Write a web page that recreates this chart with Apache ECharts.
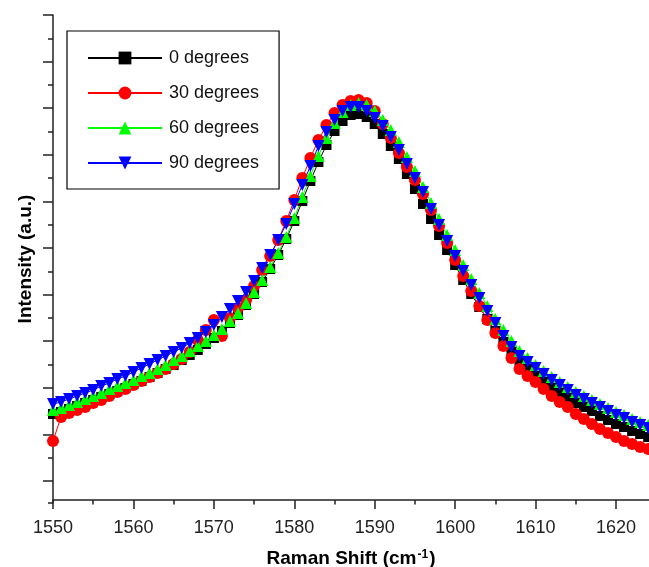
<!DOCTYPE html>
<html><head><meta charset="utf-8">
<script src="https://cdn.jsdelivr.net/npm/echarts@6/dist/echarts.min.js"></script>
<style>html,body{margin:0;padding:0;background:#fff}#c{width:649px;height:567px}</style>
</head><body><div id="c"></div>
<script>
const ramanShift = [1550,1551,1552,1553,1554,1555,1556,1557,1558,1559,1560,1561,1562,1563,1564,1565,1566,1567,1568,1569,1570,1571,1572,1573,1574,1575,1576,1577,1578,1579,1580,1581,1582,1583,1584,1585,1586,1587,1588,1589,1590,1591,1592,1593,1594,1595,1596,1597,1598,1599,1600,1601,1602,1603,1604,1605,1606,1607,1608,1609,1610,1611,1612,1613,1614,1615,1616,1617,1618,1619,1620,1621,1622,1623,1624];
const deg0 = [86,88,91,94,97,100,103,106,109,112,116,119,123,127,131,135,140,145,150,156,162,169,177,185,195,206,218,231,245,261,279,299,319,338,355,369,379,385,386,383,376,366,354,341,326,311,296,281,265,250,235,220,206,193,181,169,158,148,139,132,125,119,113,107,102,97,93,89,84,80,76,73,69,66,63];
const deg30 = [59,83,87,90,93,97,100,104,108,111,115,119,123,127,131,136,141,148,160,170,180,164,182,192,200,214,230,244,260,279,300,322,342,360,375,387,395,399,400,397,389,376,362,347,333,320,306,290,274,257,240,224,209,194,180,167,154,142,131,124,118,111,104,98,93,86,81,76,71,67,63,59,56,53,51];
const deg60 = [90,92,95,98,101,104,107,111,114,117,120,124,127,131,135,140,144,149,154,159,165,171,179,187,197,208,220,233,247,263,282,303,324,344,362,377,388,395,397,395,389,380,370,358,343,329,313,297,281,265,250,235,221,207,194,181,170,159,149,142,135,129,123,118,113,108,104,100,96,92,88,85,81,78,75];
const deg90 = [96,98,101,104,107,110,114,117,121,124,128,132,136,140,144,148,152,157,162,168,175,183,191,199,208,219,232,245,260,276,296,315,334,354,368,380,389,393,393,389,382,374,363,350,336,322,308,291,275,259,244,229,215,202,189,177,164,153,144,138,132,126,120,115,110,105,101,97,93,89,85,82,78,75,72];
const seriesNames = ['0 degrees','30 degrees','60 degrees','90 degrees'];
const xTickLabels = [1550,1560,1570,1580,1590,1600,1610,1620];
const xMinorTicks = [1555,1565,1575,1585,1595,1605,1615];
const yMajorTicks = [485,438.4,391.8,345.2,298.6,252,205.4,158.8,112.2,65.6,19];
const yMinorTicks = [461.7,415.1,368.5,321.9,275.3,228.7,182.1,135.5,88.9,42.3,-3];

const FONT = "'Liberation Sans', Arial, sans-serif";
const AX = '#222';
const chart = echarts.init(document.getElementById('c'), null, {renderer:'canvas'});

function mk(i, vals, color, symbol, size, rotate) {
  return {
    name: seriesNames[i], type: 'line',
    data: ramanShift.map((x, k) => [x, vals[k]]),
    symbol: symbol, symbolSize: size, symbolRotate: rotate || 0,
    showSymbol: true,
    itemStyle: {color: color},
    lineStyle: {color: color, width: 1},
    emphasis: {disabled: true},
    animation: false
  };
}

const xBase = {type:'value', min:1550, max:1624.1, position:'bottom', gridIndex:0, splitLine:{show:false}};
const yBase = {type:'value', min:-3, max:485, position:'left', gridIndex:0, splitLine:{show:false}};

chart.setOption({
  backgroundColor: '#fff',
  animation: false,
  grid: {left:53, right:0, top:15, bottom:64, containLabel:false, outerBoundsMode:'none'},
  legend: {
    orient:'vertical', left:67, top:31,
    padding:[18,20,17,20],
    itemWidth:74, itemHeight:16, itemGap:17,
    borderColor:'#000', borderWidth:1.2,
    data: seriesNames,
    textStyle:{fontSize:18, color:'#111', fontFamily:FONT, padding:[0,0,0,2]}
  },
  xAxis: [
    Object.assign({}, xBase, {
      axisLine:{show:true, lineStyle:{color:AX, width:1.5}},
      axisTick:{show:true, length:9, customValues:xTickLabels, lineStyle:{color:AX, width:1.5}},
      axisLabel:{show:true, customValues:xTickLabels, formatter:function(v){return String(v);}, fontSize:18, color:'#222', margin:16, fontFamily:FONT},
      name:'{a|Raman Shift (cm}{s|-1}{a|)}',
      nameLocation:'middle', nameGap:46,
      nameTextStyle:{rich:{
        a:{fontSize:19, fontWeight:'bold', color:'#000', fontFamily:FONT},
        s:{fontSize:12, fontWeight:'bold', color:'#000', fontFamily:FONT, verticalAlign:'top', padding:[0,1,0,1]}
      }}
    }),
    Object.assign({}, xBase, {
      axisLine:{show:false},
      axisTick:{show:true, length:4.5, customValues:xMinorTicks, lineStyle:{color:AX, width:1.5}},
      axisLabel:{show:false}
    })
  ],
  yAxis: [
    Object.assign({}, yBase, {
      axisLine:{show:true, lineStyle:{color:AX, width:1.5}},
      axisTick:{show:true, length:10, customValues:yMajorTicks, lineStyle:{color:AX, width:1.5}},
      axisLabel:{show:false},
      name:'Intensity (a.u.)', nameLocation:'middle', nameGap:18,
      nameTextStyle:{fontSize:19, fontWeight:'bold', color:'#000', fontFamily:FONT}
    }),
    Object.assign({}, yBase, {
      axisLine:{show:false},
      axisTick:{show:true, length:5, customValues:yMinorTicks, lineStyle:{color:AX, width:1.5}},
      axisLabel:{show:false}
    })
  ],
  series: [
    mk(0, deg0, '#000000', 'rect', 10),
    mk(1, deg30, '#ff0000', 'circle', 12),
    mk(2, deg60, '#00ff00', 'triangle', 12),
    mk(3, deg90, '#0000ff', 'triangle', 12, 180)
  ]
});
</script></body></html>
